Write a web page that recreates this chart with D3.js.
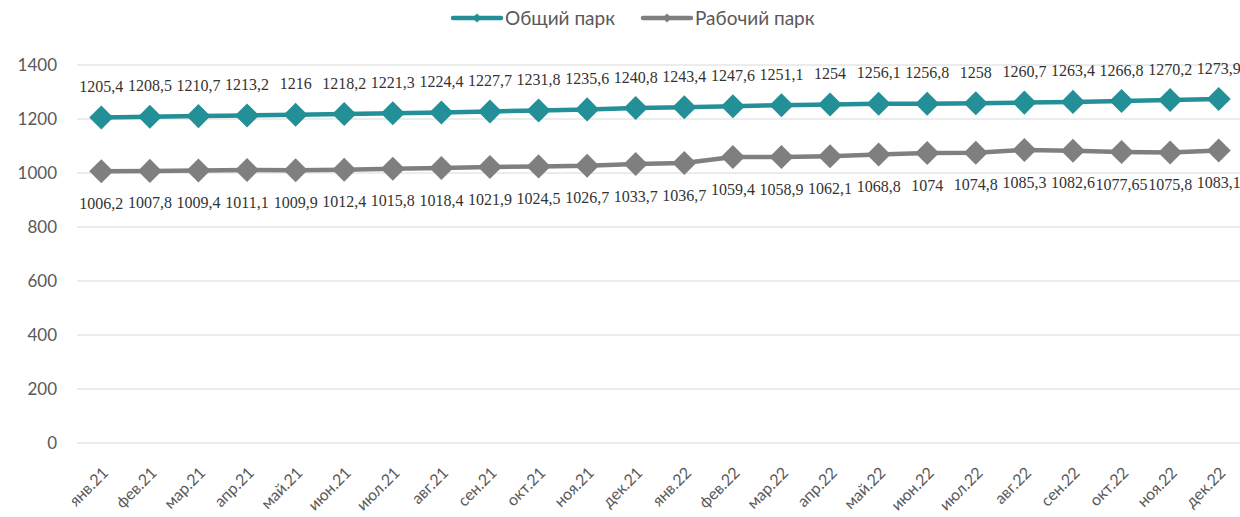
<!DOCTYPE html>
<html>
<head>
<meta charset="utf-8">
<script src="https://cdn.jsdelivr.net/npm/d3@7"></script>
<style>
  body { margin: 0; background: #fff; }
  svg { display: block; }
</style>
</head>
<body>
<div id="chart"></div>
<script>
// data
const months = ["янв.21", "фев.21", "мар.21", "апр.21", "май.21", "июн.21", "июл.21", "авг.21",
  "сен.21", "окт.21", "ноя.21", "дек.21", "янв.22", "фев.22", "мар.22", "апр.22", "май.22",
  "июн.22", "июл.22", "авг.22", "сен.22", "окт.22", "ноя.22", "дек.22"]
const totalFleet = [1205.4, 1208.5, 1210.7, 1213.2, 1216, 1218.2, 1221.3, 1224.4, 1227.7, 1231.8,
  1235.6, 1240.8, 1243.4, 1247.6, 1251.1, 1254, 1256.1, 1256.8, 1258, 1260.7, 1263.4, 1266.8,
  1270.2, 1273.9]
const workFleet = [1006.2, 1007.8, 1009.4, 1011.1, 1009.9, 1012.4, 1015.8, 1018.4, 1021.9, 1024.5,
  1026.7, 1033.7, 1036.7, 1059.4, 1058.9, 1062.1, 1068.8, 1074, 1074.8, 1085.3, 1082.6, 1077.65,
  1075.8, 1083.1]
const yTicks = [0, 200, 400, 600, 800, 1000, 1200, 1400]
const seriesNames = ["Общий парк", "Рабочий парк"]

const width = 1240
const height = 517
const tealColor = "#238f97"
const grayColor = "#7f7f7f"
const textColor = "#595959"

const svg = d3.select("#chart")
  .append("svg")
  .attr("width", width)
  .attr("height", height)

const xScale = d3.scaleBand()
  .domain(months)
  .range([77, 1243])
const xc = d => xScale(d) + xScale.bandwidth() / 2

const yScale = d3.scaleLinear()
  .domain([0, 1400])
  .range([443, 65])

// gridlines
svg.append("g")
  .selectAll("line")
  .data(yTicks)
  .enter()
  .append("line")
  .attr("x1", 77)
  .attr("x2", width)
  .attr("y1", d => yScale(d))
  .attr("y2", d => yScale(d))
  .attr("stroke", "#d9d9d9")
  .attr("stroke-width", 1)

// y axis labels
svg.append("g")
  .selectAll("text")
  .data(yTicks)
  .enter()
  .append("text")
  .attr("x", 57)
  .attr("y", d => yScale(d))
  .attr("dy", "0.36em")
  .attr("text-anchor", "end")
  .attr("font-family", "Lato, 'Open Sans', sans-serif")
  .attr("font-size", 17)
  .attr("fill", textColor)
  .text(d => d)

// x axis labels
svg.append("g")
  .selectAll("text")
  .data(months)
  .enter()
  .append("text")
  .attr("transform", d => `translate(${xc(d) + 4}, 470) rotate(-45)`)
  .attr("dy", "0.35em")
  .attr("text-anchor", "end")
  .attr("font-family", "Lato, 'Open Sans', sans-serif")
  .attr("font-size", 16)
  .attr("fill", textColor)
  .text(d => d)

const line = d3.line()
  .x((d, i) => xc(months[i]))
  .y(d => yScale(d))

const diamond = d3.symbol(d3.symbolSquare, 289)

function addSeries(values, color, labelDy) {
  svg.append("path")
    .datum(values)
    .attr("fill", "none")
    .attr("stroke", color)
    .attr("stroke-width", 4.5)
    .attr("stroke-linejoin", "round")
    .attr("d", line)

  svg.append("g")
    .selectAll("path")
    .data(values)
    .enter()
    .append("path")
    .attr("d", diamond)
    .attr("transform", (d, i) => `translate(${xc(months[i])}, ${yScale(d)}) rotate(45)`)
    .attr("fill", color)

  svg.append("g")
    .selectAll("text")
    .data(values)
    .enter()
    .append("text")
    .attr("x", (d, i) => xc(months[i]))
    .attr("y", d => yScale(d) + labelDy)
    .attr("dy", "0.35em")
    .attr("text-anchor", "middle")
    .attr("font-family", "'Liberation Serif', 'Times New Roman', serif")
    .attr("font-size", 16)
    .attr("fill", "#333")
    .text(d => String(d).replace(".", ","))
}

addSeries(totalFleet, tealColor, -31)
addSeries(workFleet, grayColor, 32)

// legend
const legendItems = [
  {name: seriesNames[0], color: tealColor, x: 453},
  {name: seriesNames[1], color: grayColor, x: 643}
]
const legend = svg.append("g")
  .selectAll("g")
  .data(legendItems)
  .enter()
  .append("g")
  .attr("transform", d => `translate(${d.x}, 18)`)

legend.append("line")
  .attr("x1", 0)
  .attr("x2", 48)
  .attr("stroke", d => d.color)
  .attr("stroke-width", 4.5)
  .attr("stroke-linecap", "round")

legend.append("path")
  .attr("d", d3.symbol(d3.symbolSquare, 40))
  .attr("transform", "translate(24, 0) rotate(45)")
  .attr("fill", d => d.color)

legend.append("text")
  .attr("x", 52)
  .attr("dy", "0.35em")
  .attr("font-family", "Lato, 'Open Sans', sans-serif")
  .attr("font-size", 19)
  .attr("fill", textColor)
  .text(d => d.name)
</script>
</body>
</html>
